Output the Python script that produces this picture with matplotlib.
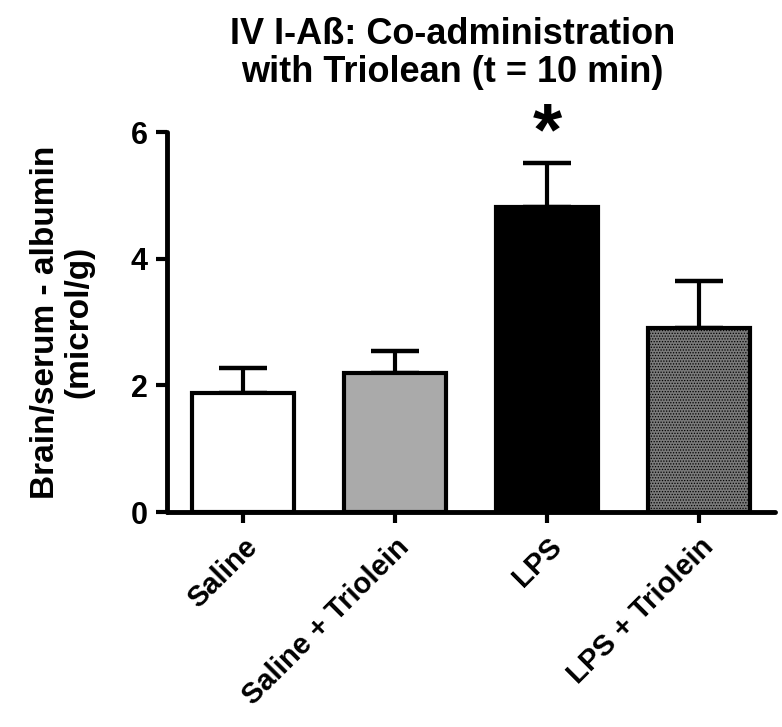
import numpy as np
import matplotlib.pyplot as plt

plt.rcParams['font.family'] = ['Liberation Sans', 'DejaVu Sans']
plt.rcParams['font.weight'] = 'bold'
plt.rcParams['hatch.color'] = '#cccccc'
plt.rcParams['hatch.linewidth'] = 0.6

# Groups and values (mean and upper error)
groups = ["Saline", "Saline + Triolein", "LPS", "LPS + Triolein"]
means = [1.88, 2.20, 4.82, 2.91]
errors = [0.39, 0.34, 0.69, 0.74]
colors = ["white", "#aaaaaa", "black", "#7a7a7a"]
hatches = [None, None, None, "......"]

fig = plt.figure(figsize=(7.82, 7.27), dpi=100)
ax = fig.add_axes([0.2136, 0.2957, 0.7774, 0.5227])

x = np.arange(len(groups))
ax.errorbar(x, means, yerr=[np.zeros(len(means)), errors], fmt='none',
            ecolor='black', elinewidth=3, capsize=17, capthick=3.2, zorder=1)
bars = ax.bar(x, means, width=0.67, color=colors, edgecolor='black',
              linewidth=3, zorder=2)
for b, h in zip(bars, hatches):
    if h:
        b.set_hatch(h)

# significance mark
ax.text(2, 5.95, "*", ha='center', va='center', fontsize=54,
        fontweight='bold', clip_on=False)

ax.set_xlim(-0.5, 3.5)
ax.set_ylim(0, 6)
ax.set_yticks([0, 2, 4, 6])
ax.set_xticks(x)
ax.set_xticklabels(groups, rotation=45, ha='right', rotation_mode='anchor',
                   fontsize=21, fontweight='bold')
ax.tick_params(axis='y', labelsize=22, width=3, length=8, pad=6)
ax.tick_params(axis='x', width=3, length=8, pad=7)

for s in ['top', 'right']:
    ax.spines[s].set_visible(False)
for s in ['left', 'bottom']:
    ax.spines[s].set_linewidth(3.5)
    ax.spines[s].set_capstyle('round')

ax.set_ylabel("Brain/serum - albumin\n(microl/g)", fontsize=24,
              fontweight='bold', labelpad=26, linespacing=1.1)
ax.set_title("IV I-Aß: Co-administration\nwith Triolean (t = 10 min)",
             fontsize=26, fontweight='bold', pad=36, linespacing=1.1,
             x=0.47)

fig.savefig("out.png", dpi=100)
